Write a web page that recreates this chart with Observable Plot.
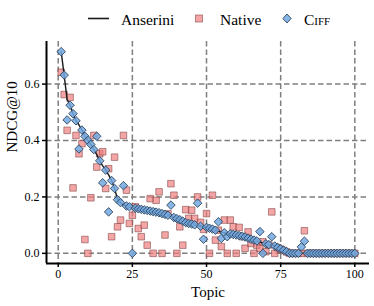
<!DOCTYPE html>
<html><head><meta charset="utf-8">
<script src="https://cdn.jsdelivr.net/npm/d3@7"></script>
<script src="https://cdn.jsdelivr.net/npm/@observablehq/plot@0.6"></script>
<style>
body{margin:0;background:#fff;}
#wrap{position:relative;width:374px;height:306px;font-family:"Liberation Serif","Times New Roman",Tinos,"DejaVu Serif",serif;}
#legend{position:absolute;left:0;top:0;}
#legend text{font-family:"Liberation Serif","Times New Roman",Tinos,"DejaVu Serif",serif;}
</style></head><body><div id="wrap"></div>
<script>
// Topic index (sorted by Anserini NDCG@10)
const topics = Array.from({length: 100}, (_, i) => i + 1);

const anserini = [
  0.715,0.632,0.545,0.525,0.495,0.470,0.455,0.437,0.415,0.400,
  0.386,0.368,0.350,0.328,0.310,0.295,0.278,0.258,0.230,0.190,
  0.180,0.172,0.168,0.165,0.162,0.160,0.158,0.156,0.154,0.152,
  0.150,0.148,0.146,0.144,0.141,0.138,0.135,0.131,0.127,0.123,
  0.119,0.114,0.109,0.106,0.104,0.101,0.098,0.096,0.094,0.092,
  0.089,0.086,0.082,0.078,0.075,0.073,0.071,0.069,0.067,0.065,
  0.063,0.061,0.058,0.054,0.050,0.047,0.044,0.041,0.037,0.034,
  0.031,0.029,0.026,0.021,0.016,0.011,0.006,0,0,0,
  0,0,0,0,0,0,0,0,0,0,
  0,0,0,0,0,0,0,0,0,0
];

const native = [
  0.642,0.563,0.436,0.553,0.232,0.418,0.353,0.389,0.049,0.000,
  0.197,0.418,0.306,0.353,0.360,0.230,0.300,0.059,0.341,0.094,
  0.118,0.418,0.224,0.106,0.135,0.165,0.088,0.059,0.100,0.029,
  0.194,0.000,0.188,0.218,0.000,0.065,0.140,0.247,0.206,0.000,
  0.094,0.029,0.155,0.124,0.153,0.124,0.200,0.110,0.085,0.141,
  0.000,0.206,0.047,0.082,0.024,0.118,0.000,0.118,0.094,0.000,
  0.092,0.059,0.018,0.076,0.035,0.000,0.029,0.018,0.041,0.006,
  0.030,0.147,0.000,0.020,0.015,0.010,0.005,0,0,0,
  0,0,0.080,0,0,0,0,0,0,0,
  0,0,0,0,0,0,0,0,0,0
];

const ciff = [
  0.715,0.632,0.473,0.525,0.495,0.470,0.370,0.437,0.415,0.400,
  0.386,0.368,0.415,0.328,0.250,0.295,0.147,0.258,0.230,0.190,
  0.180,0.240,0.168,0.165,0.000,0.160,0.158,0.156,0.154,0.152,
  0.150,0.148,0.146,0.144,0.141,0.138,0.135,0.171,0.127,0.123,
  0.119,0.114,0.109,0.106,0.104,0.101,0.178,0.096,0.050,0.092,
  0.089,0.086,0.082,0.112,0.053,0.073,0.059,0.069,0.067,0.065,
  0.063,0.061,0.058,0.054,0.050,0.047,0.044,0.077,0.000,0.034,
  0.031,0.059,0.026,0.021,0.016,0.011,0.006,0,0,0,
  0,0.023,0.043,0,0,0,0,0,0,0,
  0,0,0,0,0,0,0,0,0,0
];

const xTicks = [0, 25, 50, 75, 100];
const yTicks = [0.0, 0.2, 0.4, 0.6];
const xDomain = [-3.95, 104.95];
const yDomain = [-0.036, 0.751];

const rows = topics.map((t, i) => ({topic: t, anserini: anserini[i], native: native[i], ciff: ciff[i]}));

const diamond = {draw(ctx, size) {
  const h = Math.sqrt(size / 2);
  ctx.moveTo(0, -h); ctx.lineTo(h, 0); ctx.lineTo(0, h); ctx.lineTo(-h, 0); ctx.closePath();
}};

const font = '"Liberation Serif","Times New Roman",Tinos,"DejaVu Serif",serif';
const gridStyle = {stroke: "#7f7f7f", strokeOpacity: 1, strokeWidth: 1.5, strokeDasharray: "5.5,3"};

const chart = Plot.plot({
  width: 374, height: 306,
  marginLeft: 46, marginTop: 41, marginRight: 5, marginBottom: 43,
  style: {fontFamily: font, fontSize: "12px", background: "white", color: "black"},
  x: {domain: xDomain},
  y: {domain: yDomain},
  marks: [
    Plot.gridX(xTicks, gridStyle),
    Plot.gridY(yTicks, gridStyle),
    Plot.dot(rows, {x: "topic", y: "native", symbol: "square", r: 3.7,
      fill: "#f08080", fillOpacity: 0.7, stroke: "#7a3a3a", strokeOpacity: 0.6, strokeWidth: 0.9}),
    Plot.line(rows, {x: "topic", y: "anserini", stroke: "#1a1a1a", strokeWidth: 1.4}),
    Plot.dot(rows, {x: "topic", y: "ciff", symbol: diamond, r: 3.4,
      fill: "#72a8e0", fillOpacity: 0.85, stroke: "#2f4660", strokeWidth: 0.9}),
    Plot.axisX(xTicks, {tickSize: 4, tickPadding: 1.5, strokeWidth: 1.5, label: null, fontSize: 12}),
    Plot.axisY(yTicks, {tickSize: 4, tickPadding: 3, strokeWidth: 1.5, label: null, fontSize: 12, tickFormat: d => d.toFixed(1)}),
    Plot.ruleX([xDomain[0]], {stroke: "black", strokeWidth: 2}),
    Plot.ruleY([yDomain[0]], {stroke: "black", strokeWidth: 2}),
    Plot.text(["Topic"], {frameAnchor: "bottom", dy: 29, text: d => d, fontSize: 15, lineAnchor: "middle"}),
    Plot.text(["NDCG@10"], {frameAnchor: "left", dx: -34, rotate: -90, text: d => d, fontSize: 15, lineAnchor: "middle"})
  ]
});

const wrap = document.getElementById("wrap");
wrap.appendChild(chart);

// Legend
const ns = "http://www.w3.org/2000/svg";
const leg = document.createElementNS(ns, "svg");
leg.setAttribute("id", "legend");
leg.setAttribute("width", 374);
leg.setAttribute("height", 34);
leg.innerHTML = `
  <line x1="88" x2="109" y1="18.5" y2="18.5" stroke="#1a1a1a" stroke-width="1.6"/>
  <text x="121" y="25" font-size="15.5">Anserini</text>
  <rect x="195.5" y="15" width="7" height="7" fill="#f08080" fill-opacity="0.7" stroke="#7a3a3a" stroke-opacity="0.6" stroke-width="0.9"/>
  <text x="220" y="25" font-size="15.5">Native</text>
  <path d="M287,14 L291.2,18.5 L287,23 L282.8,18.5 Z" fill="#72a8e0" fill-opacity="0.85" stroke="#2f4660" stroke-width="0.9"/>
  <text x="304" y="25" font-size="15.5" style="font-variant: small-caps">Ciff</text>
`;
wrap.appendChild(leg);
</script>
</body></html>
